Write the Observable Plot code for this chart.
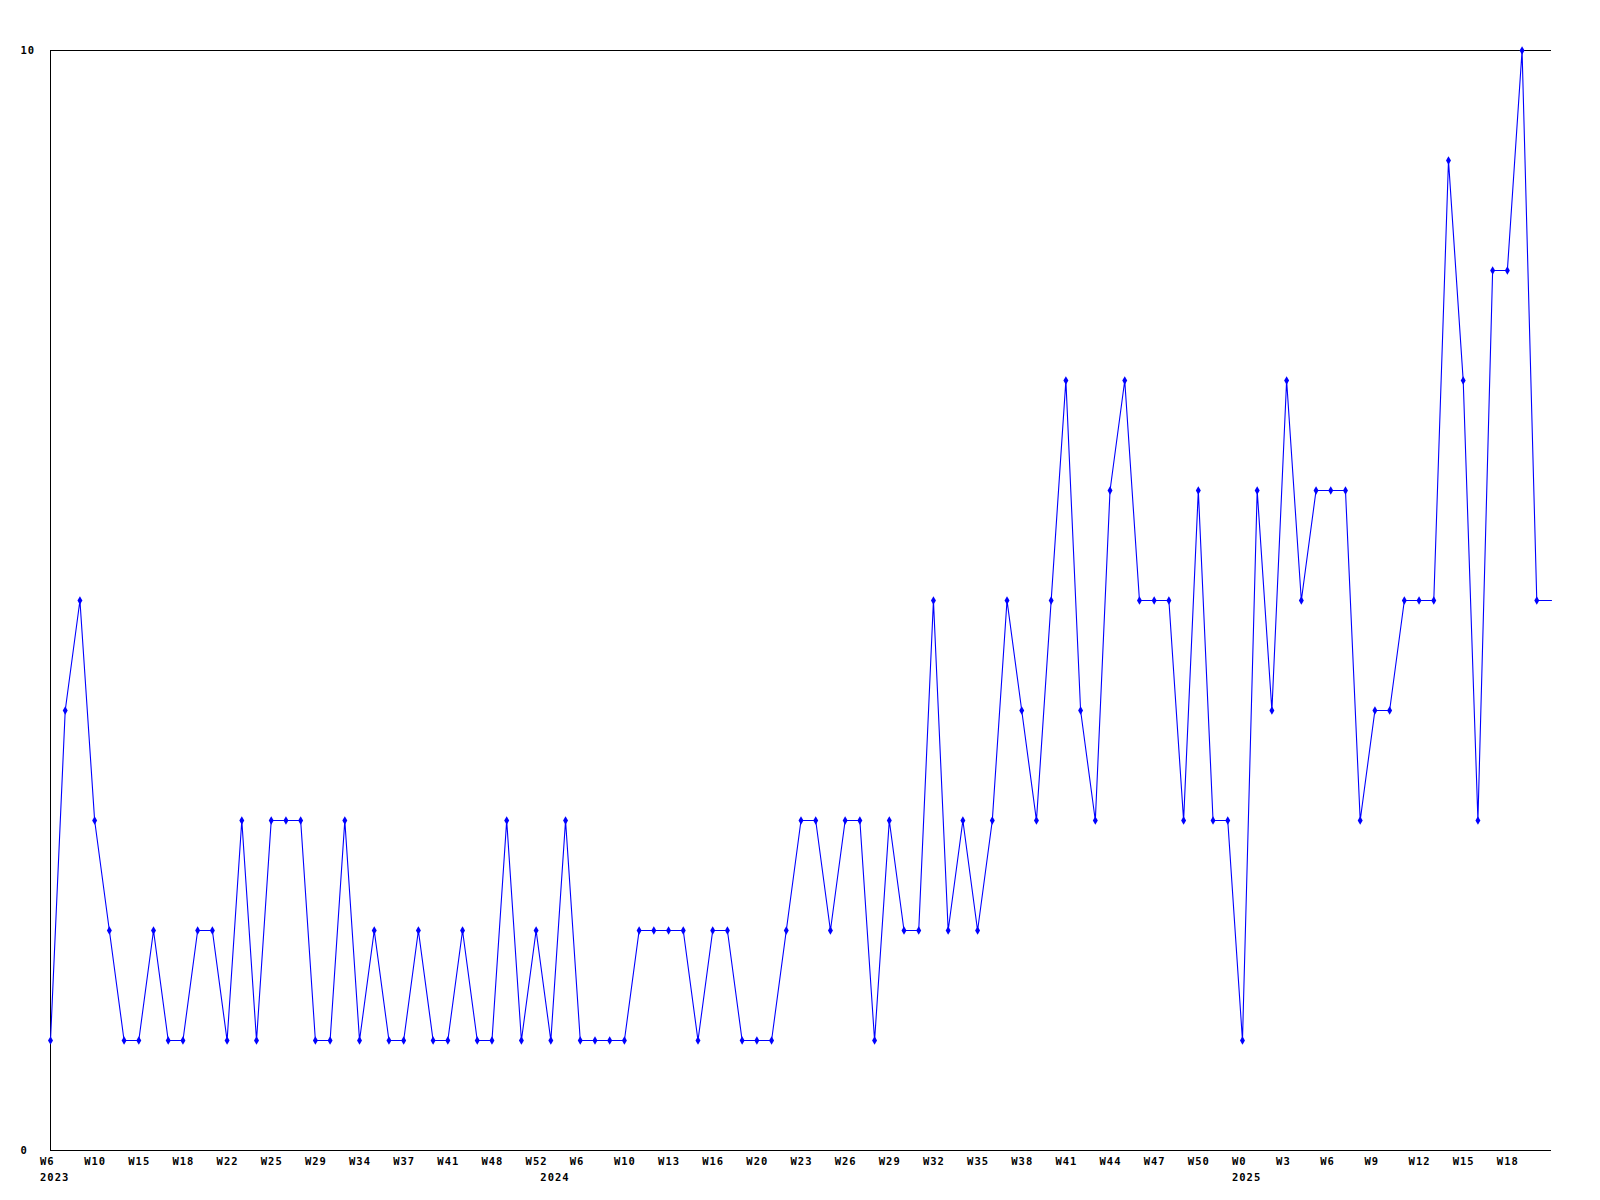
<!DOCTYPE html>
<html><head><meta charset="utf-8">
<script src="https://cdn.jsdelivr.net/npm/d3@7"></script>
<script src="https://cdn.jsdelivr.net/npm/@observablehq/plot@0.6"></script>
<style>
body{margin:0;background:#fff}
svg{display:block}
svg text{letter-spacing:1px}
</style>
</head><body><div id="chart"></div>
<script>
const values = [
  1,4,5,3,2,1,1,2,1,1,2,2,1,3,1,3,3,3,1,1,3,1,2,1,1,2,1,1,2,1,1,3,1,2,1,3,1,
  1,1,1,2,2,2,2,1,2,2,1,1,1,2,3,3,2,3,3,1,3,2,2,5,2,3,2,3,5,4,3,5,7,4,3,
  6,7,5,5,5,3,6,3,3,1,6,4,7,5,6,6,6,3,4,4,5,5,5,9,7,3,8,8,10,5,5
];
const weekLabels = [
  "W6","W10","W15","W18","W22","W25","W29","W34","W37","W41","W48","W52",
  "W6","W10","W13","W16","W20","W23","W26","W29","W32","W35","W38","W41","W44","W47","W50",
  "W0","W3","W6","W9","W12","W15","W18"
];
const yearLabels = ["2023","2024","2025"];
const yearIndex = [0, 34, 81];
const yTicks = [0, 10];

const data = values.map((v, i) => ({i, v}));
const ticks = weekLabels.map((w, k) => ({i: 3 * k, w}));
const years = yearLabels.map((y, k) => ({i: yearIndex[k], y}));
const font = "'DejaVu Sans Mono', 'Liberation Mono', monospace";

const plot = Plot.plot({
  width: 1600, height: 1200,
  marginLeft: 50, marginRight: 49, marginTop: 50, marginBottom: 50,
  x: {domain: [0, values.length - 1], axis: null},
  y: {domain: [0, 10], axis: null},
  style: {fontFamily: font, fontSize: "10.5px", fontWeight: "bold", background: "#fff", color: "#000", overflow: "visible"},
  marks: [
    Plot.ruleY([10], {stroke: "#000", strokeWidth: 1}),
    Plot.ruleY([0], {stroke: "#000", strokeWidth: 1}),
    Plot.ruleX([0], {stroke: "#000", strokeWidth: 1}),
    Plot.line(data, {x: "i", y: "v", stroke: "#0000ff", strokeWidth: 1.1}),
    Plot.dot(data.slice(0, -1), {x: "i", y: "v", symbol: "diamond", r: 2.6, fill: "#0000ff", stroke: "none"}),
    Plot.text(yTicks, {y: d => d, frameAnchor: "left", dx: -30, textAnchor: "start", text: d => String(d), fill: "#000"}),
    Plot.text(ticks, {x: "i", frameAnchor: "bottom", dy: 14, dx: -10.5, textAnchor: "start", text: "w", fill: "#000"}),
    Plot.text(years, {x: "i", frameAnchor: "bottom", dy: 30, dx: -10.5, textAnchor: "start", text: "y", fill: "#000"})
  ]
});
document.getElementById("chart").appendChild(plot);
</script>
</body></html>
